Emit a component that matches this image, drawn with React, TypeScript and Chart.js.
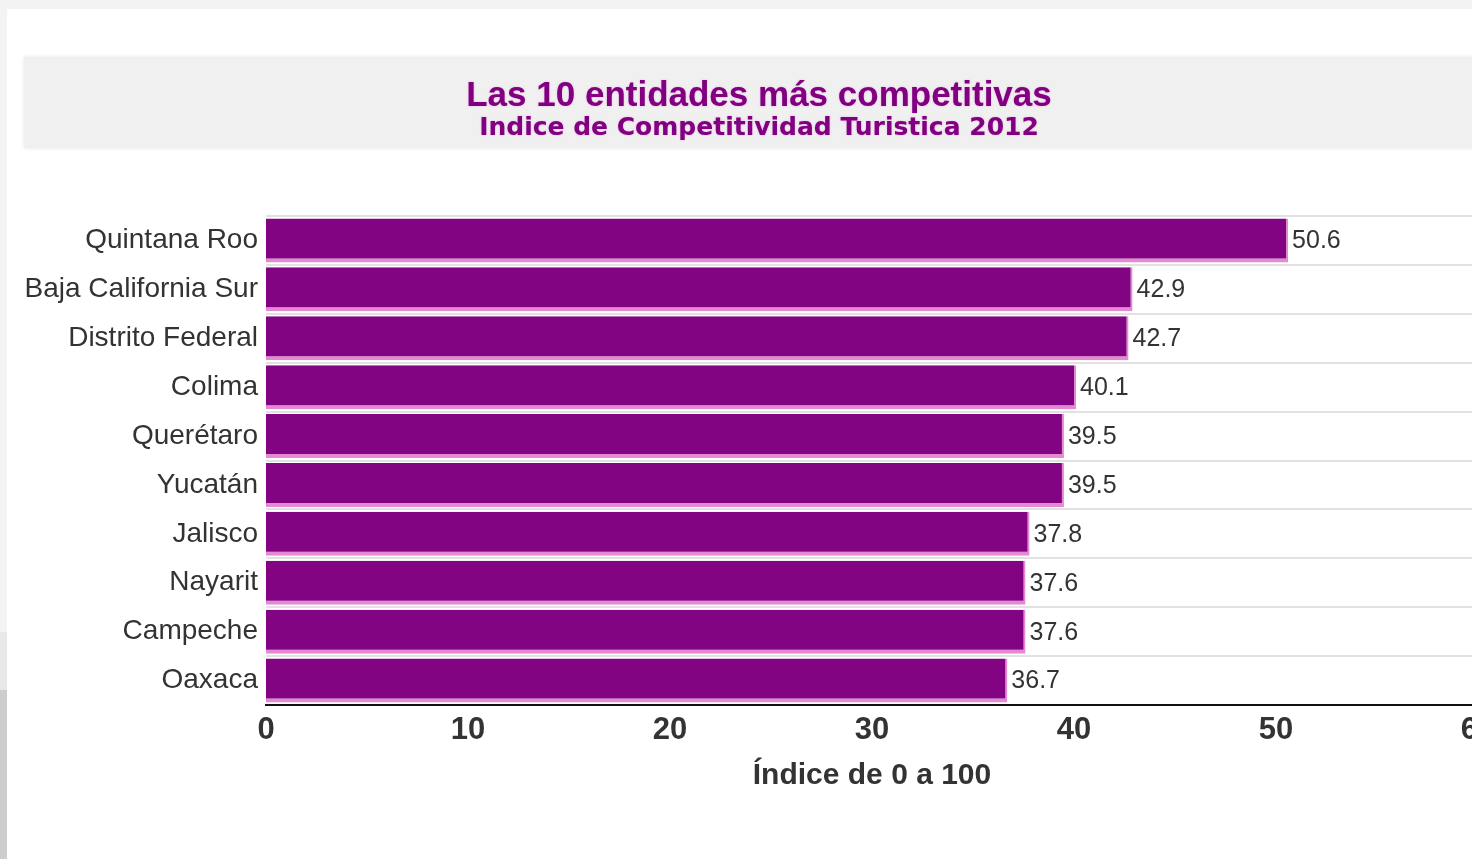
import React, { useEffect, useRef } from "react";
import { Chart, registerables } from "chart.js";

Chart.register(...registerables);

const categories = [
  "Quintana Roo",
  "Baja California Sur",
  "Distrito Federal",
  "Colima",
  "Querétaro",
  "Yucatán",
  "Jalisco",
  "Nayarit",
  "Campeche",
  "Oaxaca",
];
const values = [50.6, 42.9, 42.7, 40.1, 39.5, 39.5, 37.8, 37.6, 37.6, 36.7];
const xTicks = [0, 10, 20, 30, 40, 50, 60];
const titleText = "Las 10 entidades más competitivas";
const subtitleText = "Indice de Competitividad Turistica 2012";
const xTitle = "Índice de 0 a 100";

const CANVAS_W = 1506;
const CANVAS_H = 850;

const valueLabels = {
  id: "valueLabels",
  afterDatasetsDraw(chart: any) {
    const { ctx } = chart;
    const meta = chart.getDatasetMeta(0);
    ctx.save();
    ctx.font = '25px "Liberation Sans", Arial, sans-serif';
    ctx.fillStyle = "#333333";
    ctx.textAlign = "left";
    ctx.textBaseline = "middle";
    meta.data.forEach((bar: any, i: number) => {
      ctx.fillText(String(values[i].toFixed(1)), bar.x + 4, bar.y + 1);
    });
    ctx.restore();
  },
};

const titleBlock = {
  id: "titleBlock",
  afterDraw(chart: any) {
    const { ctx } = chart;
    ctx.save();
    ctx.textAlign = "center";
    ctx.textBaseline = "middle";
    ctx.fillStyle = "#800080";
    ctx.shadowColor = "rgba(230, 120, 220, 0.6)";
    ctx.shadowBlur = 2;
    ctx.font = 'bold 35px "Liberation Sans", Arial, sans-serif';
    ctx.fillText(titleText, 752, 87);
    ctx.font = 'bold 25px "DejaVu Sans", Verdana, sans-serif';
    ctx.fillText(subtitleText, 752, 119);
    ctx.restore();
  },
};

export default function App() {
  const ref = useRef<HTMLCanvasElement | null>(null);
  useEffect(() => {
    if (!ref.current) return;
    const chart = new Chart(ref.current, {
      type: "bar",
      data: {
        labels: categories,
        datasets: [
          {
            data: values,
            backgroundColor: "#820483",
            borderColor: "#e58ad2",
            borderWidth: { top: 0, right: 2, bottom: 4, left: 0 },
            borderSkipped: false,
            categoryPercentage: 1,
            barPercentage: 0.9,
          },
        ],
      },
      options: {
        indexAxis: "y",
        responsive: false,
        maintainAspectRatio: false,
        animation: false,
        layout: { padding: { left: 0, right: 35, top: 207, bottom: 0 } },
        plugins: {
          legend: { display: false },
          tooltip: { enabled: false },
          title: { display: false },
        },
        scales: {
          x: {
            min: 0,
            max: 60,
            afterFit: (s: any) => {
              s.height = 154;
            },
            afterBuildTicks: (s: any) => {
              s.ticks = xTicks.map((v) => ({ value: v }));
            },
            ticks: {
              padding: 7,
              color: "#333333",
              font: { family: '"Liberation Sans", Arial, sans-serif', size: 31, weight: "bold" },
            },
            grid: { display: false, drawTicks: false },
            border: { display: true, color: "#111111", width: 2 },
            title: {
              display: true,
              text: xTitle,
              color: "#333333",
              font: { family: '"Liberation Sans", Arial, sans-serif', size: 30, weight: "bold", lineHeight: 1 },
              padding: { top: 0, bottom: 68 },
            },
          },
          y: {
            afterFit: (s: any) => {
              s.width = 259;
            },
            ticks: {
              padding: 8,
              color: "#333333",
              font: { family: '"Liberation Sans", Arial, sans-serif', size: 28 },
            },
            grid: { display: true, offset: true, color: "#e2e2e2", lineWidth: 2, drawTicks: false },
            border: { display: false },
          },
        },
      },
      plugins: [valueLabels, titleBlock],
    } as any);
    return () => chart.destroy();
  }, []);

  return (
    <div style={{ position: "fixed", left: 0, top: 0, width: 1472, height: 859, overflow: "hidden", background: "#f3f3f3" }}>
      <div style={{ position: "absolute", left: 7, top: 9, width: 1520, height: 900, background: "#ffffff" }} />
      <div style={{ position: "absolute", left: 0, top: 632, width: 7, height: 60, background: "#e8e8e8" }} />
      <div style={{ position: "absolute", left: 0, top: 690, width: 7, height: 169, background: "#cdcdcd" }} />
      <div
        style={{
          position: "absolute",
          left: 24,
          top: 57,
          width: 1520,
          height: 91,
          background: "#f0f0f0",
          boxShadow: "0 0 4px #e6e6e6",
        }}
      />
      <canvas
        ref={ref}
        width={CANVAS_W}
        height={CANVAS_H}
        style={{ position: "absolute", left: 7, top: 9, width: CANVAS_W, height: CANVAS_H }}
      />
    </div>
  );
}
